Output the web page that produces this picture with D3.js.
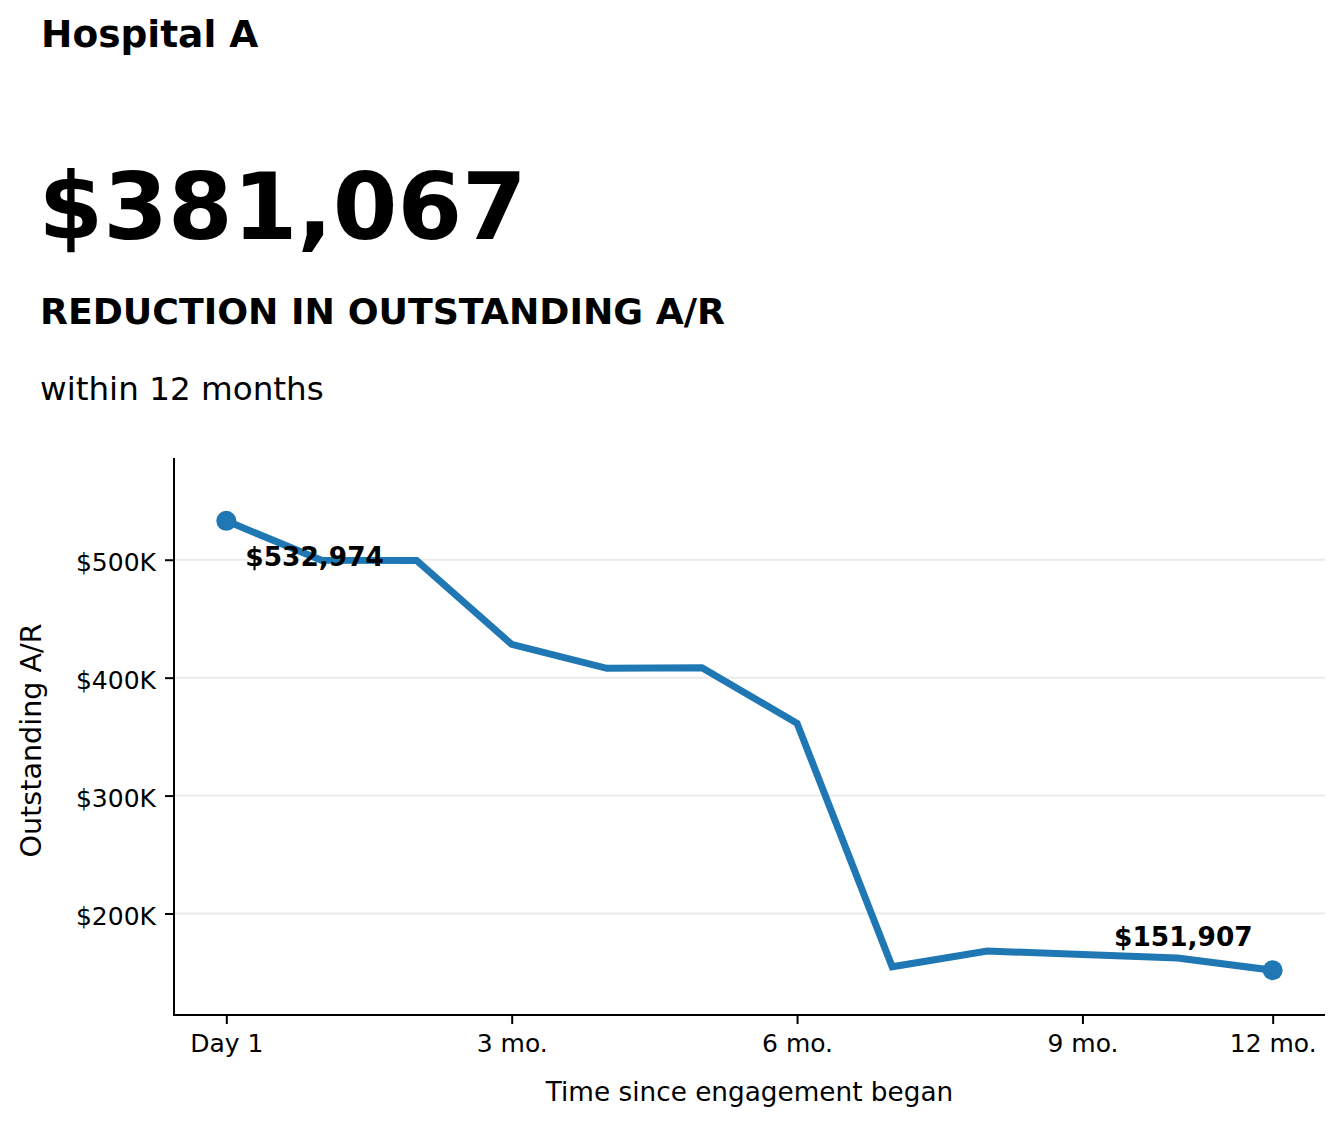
<!DOCTYPE html>
<html>
<head>
<meta charset="utf-8">
<script src="https://cdn.jsdelivr.net/npm/d3@7"></script>
<style>
  html, body { margin: 0; padding: 0; background: #fff; }
  svg { display: block; font-family: "DejaVu Sans", sans-serif; }
</style>
</head>
<body>
<svg id="chart" width="1343" height="1126"></svg>
<script>
// ---- data ----
const periods = [0, 1, 2, 3, 4, 5, 6, 7, 8, 9, 10, 11];
const outstandingAR = [532974, 499500, 499400, 428200, 407900, 408500, 361300, 154800, 168100, 165300, 162300, 151907];
const xTickPositions = [0, 3, 6, 9, 11];
const xTickLabels = ["Day 1", "3 mo.", "6 mo.", "9 mo.", "12 mo."];
const yTickValues = [200000, 300000, 400000, 500000];
const titleText = "Hospital A";
const headlineValue = "$381,067";
const headlineLabel = "REDUCTION IN OUTSTANDING A/R";
const subLabel = "within 12 months";
const xAxisLabel = "Time since engagement began";
const yAxisLabel = "Outstanding A/R";

// ---- layout ----
const svg = d3.select("#chart");
const plot = { left: 174, right: 1325, top: 458, bottom: 1015 };
const color = "#1f77b4";

const n = periods.length;
const xPad = (n - 1) * 0.05;
const x = d3.scaleLinear()
  .domain([periods[0] - xPad, periods[n - 1] + xPad])
  .range([plot.left, plot.right]);
const yMin = d3.min(outstandingAR), yMax = d3.max(outstandingAR);
const y = d3.scaleLinear()
  .domain([yMin * 0.75, yMax * 1.1])
  .range([plot.bottom, plot.top]);

// ---- header texts ----
svg.append("text").attr("x", 41).attr("y", 47)
  .attr("font-size", 37.5).attr("font-weight", "bold").text(titleText);
svg.append("text").attr("x", 38.5).attr("y", 239)
  .attr("font-size", 93).attr("font-weight", "bold").text(headlineValue);
svg.append("text").attr("x", 40).attr("y", 324)
  .attr("font-size", 36.3).attr("font-weight", "bold").text(headlineLabel);
svg.append("text").attr("x", 40).attr("y", 400)
  .attr("font-size", 32.6).text(subLabel);

// ---- grid ----
svg.append("g").selectAll("line").data(yTickValues).join("line")
  .attr("x1", plot.left).attr("x2", plot.right)
  .attr("y1", d => y(d)).attr("y2", d => y(d))
  .attr("stroke", "#ebebeb").attr("stroke-width", 2);

// ---- axes ----
const fmtY = d => "$" + (d / 1000) + "K";
const yAxis = d3.axisLeft(y).tickValues(yTickValues).tickFormat(fmtY)
  .tickSize(9).tickPadding(9);
const gy = svg.append("g").attr("transform", `translate(${plot.left},0)`).call(yAxis);
gy.select(".domain").remove();
gy.selectAll(".tick line").attr("stroke", "#000").attr("stroke-width", 2);
gy.selectAll(".tick text").attr("font-size", 25).attr("font-family", "DejaVu Sans")
  .attr("fill", "#000").attr("dy", "0.42em");

const xAxis = d3.axisBottom(x).tickValues(xTickPositions)
  .tickFormat((d, i) => xTickLabels[i]).tickSize(9).tickPadding(10);
const gx = svg.append("g").attr("transform", `translate(0,${plot.bottom})`).call(xAxis);
gx.select(".domain").remove();
gx.selectAll(".tick line").attr("stroke", "#000").attr("stroke-width", 2);
gx.selectAll(".tick text").attr("font-size", 25).attr("font-family", "DejaVu Sans")
  .attr("fill", "#000");

// spines
svg.append("line").attr("x1", plot.left).attr("x2", plot.left)
  .attr("y1", plot.top).attr("y2", plot.bottom + 1)
  .attr("stroke", "#000").attr("stroke-width", 2);
svg.append("line").attr("x1", plot.left - 1).attr("x2", plot.right)
  .attr("y1", plot.bottom).attr("y2", plot.bottom)
  .attr("stroke", "#000").attr("stroke-width", 2);

// axis labels
svg.append("text").attr("x", (plot.left + plot.right) / 2).attr("y", 1101)
  .attr("text-anchor", "middle").attr("font-size", 26.3).text(xAxisLabel);
svg.append("text")
  .attr("transform", `translate(41,740.5) rotate(-90)`)
  .attr("text-anchor", "middle").attr("font-size", 28.6).text(yAxisLabel);

// ---- line ----
const line = d3.line().x((d, i) => x(periods[i])).y(d => y(d));
svg.append("path").datum(outstandingAR)
  .attr("d", line).attr("fill", "none").attr("stroke", color)
  .attr("stroke-width", 7).attr("stroke-linejoin", "miter").attr("stroke-linecap", "butt");

// endpoints
const ends = [0, n - 1];
svg.append("g").selectAll("circle").data(ends).join("circle")
  .attr("cx", i => x(periods[i])).attr("cy", i => y(outstandingAR[i]))
  .attr("r", 10).attr("fill", color);

// annotations
const fmtMoney = d3.format("$,");
svg.append("text")
  .attr("x", x(periods[0]) + 19).attr("y", y(outstandingAR[0]) + 45)
  .attr("font-size", 26.4).attr("font-weight", "bold").text(fmtMoney(outstandingAR[0]));
svg.append("text")
  .attr("x", x(periods[n - 1]) - 20).attr("y", y(outstandingAR[n - 1]) - 24.5)
  .attr("text-anchor", "end")
  .attr("font-size", 26.4).attr("font-weight", "bold").text(fmtMoney(outstandingAR[n - 1]));
</script>
</body>
</html>
